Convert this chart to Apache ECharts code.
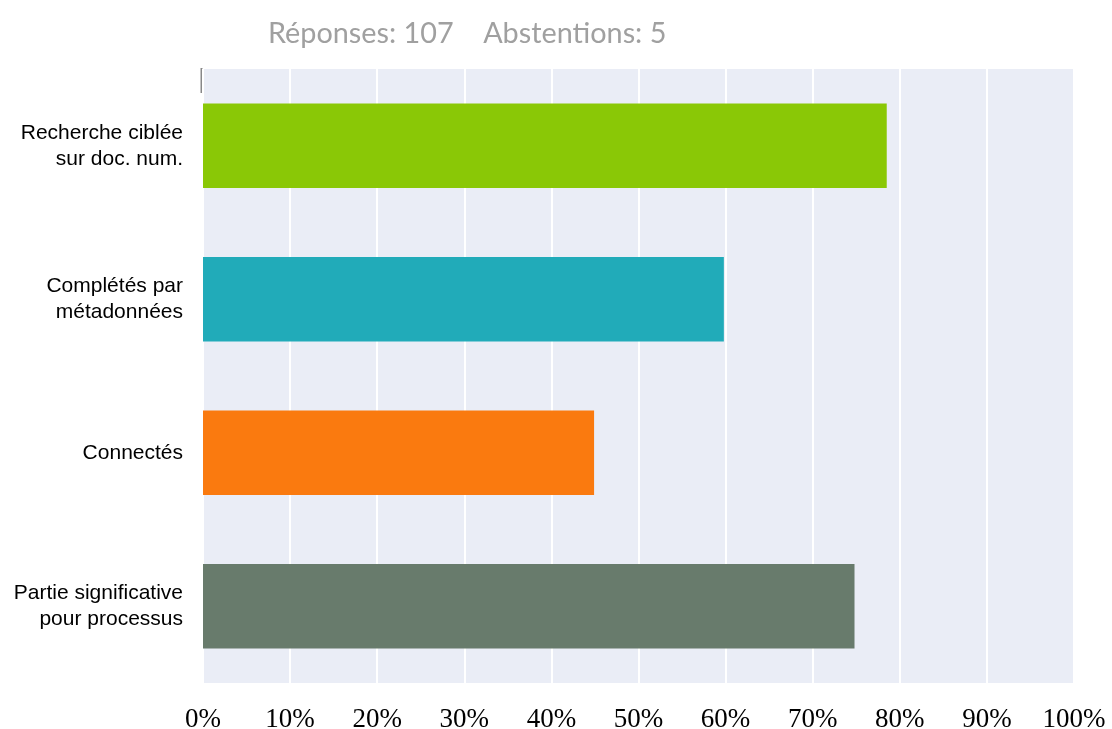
<!DOCTYPE html>
<html>
<head>
<meta charset="utf-8">
<script src="https://cdn.jsdelivr.net/npm/echarts@6/dist/echarts.min.js"></script>
<style>
  html, body { margin: 0; padding: 0; background: #fff; }
  #chart { width: 1112px; height: 729px; }
</style>
</head>
<body>
<div id="chart"></div>
<script>
// données du sondage
const categories = [
  "Recherche ciblée\nsur doc. num.",
  "Complétés par\nmétadonnées",
  "Connectés",
  "Partie significative\npour processus"
];
const values = [78.5, 59.8, 44.9, 74.8];
const barColors = ["#8AC806", "#21ABB9", "#FA7A0F", "#687B6C"];
const titleText = "Réponses: 107    Abstentions: 5";

const chart = echarts.init(document.getElementById("chart"));
chart.setOption({
  animation: false,
  title: {
    text: titleText,
    left: 263,
    top: 14,
    textStyle: {
      color: "#a0a0a0",
      fontFamily: "Lato",
      fontWeight: "normal",
      fontSize: 28.8
    }
  },
  grid: {
    left: 203,
    right: 38,
    top: 69,
    bottom: 46,
    outerBoundsMode: "none",
    show: true,
    backgroundColor: "#EAEDF6",
    borderWidth: 0
  },
  xAxis: {
    type: "value",
    min: 0,
    max: 100,
    interval: 10,
    axisLine: { show: false },
    axisTick: { show: false },
    splitLine: { lineStyle: { color: "#ffffff", width: 2 } },
    axisLabel: {
      formatter: "{value}%",
      color: "#000",
      fontFamily: "Liberation Serif",
      fontSize: 27,
      margin: 23
    }
  },
  yAxis: {
    type: "category",
    inverse: true,
    data: categories,
    axisLine: { show: false },
    axisTick: { show: false },
    axisLabel: {
      color: "#000",
      fontFamily: "Liberation Sans",
      fontSize: 21,
      lineHeight: 26,
      margin: 20
    }
  },
  series: [
    {
      type: "bar",
      data: values.map((v, i) => ({ value: v, itemStyle: { color: barColors[i] } })),
      barWidth: "55%"
    }
  ],
  graphic: [
    {
      type: "line",
      shape: { x1: 201.5, y1: 68, x2: 201.5, y2: 93 },
      style: { stroke: "#888", lineWidth: 2 }
    }
  ]
});
</script>
</body>
</html>
